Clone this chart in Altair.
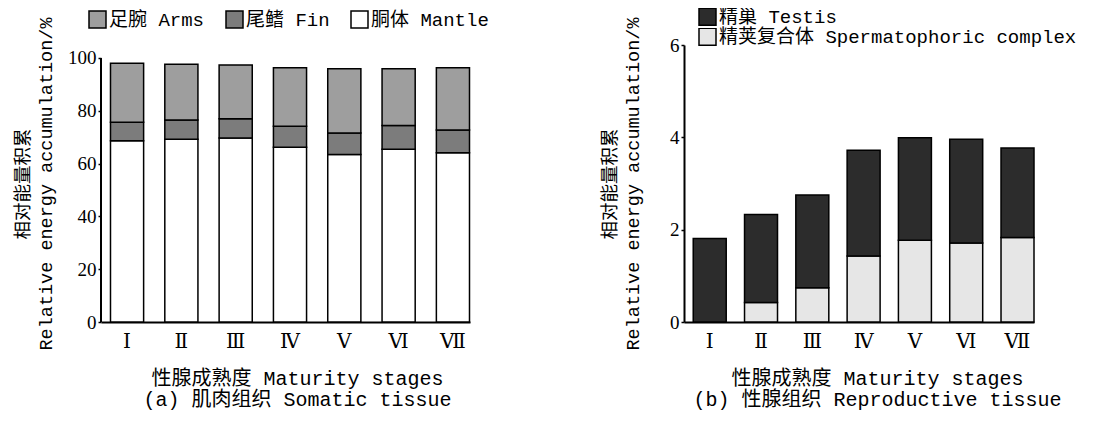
import altair as alt
import pandas as pd

stages = ["Ⅰ", "Ⅱ", "Ⅲ", "Ⅳ", "Ⅴ", "Ⅵ", "Ⅶ"]

# (a) Somatic tissue, relative energy accumulation (%)
mantle = [68.6, 69.2, 69.7, 66.2, 63.4, 65.4, 64.1]
fin = [7.0, 7.3, 7.3, 7.9, 8.2, 9.0, 8.6]
arms = [22.4, 21.1, 20.3, 22.2, 24.3, 21.5, 23.6]
parts_a = ["足腕 Arms", "尾鳍 Fin", "胴体 Mantle"]

# (b) Reproductive tissue
sperm = [0.0, 0.42, 0.74, 1.43, 1.77, 1.71, 1.83]
testis = [1.81, 1.91, 2.01, 2.29, 2.22, 2.25, 1.94]
parts_b = ["精巢 Testis", "精荚复合体 Spermatophoric complex"]

rows_a = []
for i, s in enumerate(stages):
    rows_a.append({"stage": s, "part": parts_a[2], "value": mantle[i], "ord": 0})
    rows_a.append({"stage": s, "part": parts_a[1], "value": fin[i], "ord": 1})
    rows_a.append({"stage": s, "part": parts_a[0], "value": arms[i], "ord": 2})
df_a = pd.DataFrame(rows_a)

rows_b = []
for i, s in enumerate(stages):
    rows_b.append({"stage": s, "part": parts_b[1], "value": sperm[i], "ord": 0})
    rows_b.append({"stage": s, "part": parts_b[0], "value": testis[i], "ord": 1})
df_b = pd.DataFrame(rows_b)

TXT = "Liberation Mono, Noto Sans CJK SC"
NUM = "Liberation Serif, DejaVu Serif"

def xaxis(title, tx):
    return alt.Axis(title=title, labelAngle=0, ticks=False, labelFont=NUM, labelFontSize=20,
                    labelColor="black", labelPadding=9, domainColor="black", domainWidth=2,
                    titleFont=TXT, titleFontSize=20, titleFontWeight="normal", titleColor="black",
                    titleLineHeight=21.5, titlePadding=17, titleX=tx)

def yaxis(vals, domain=True, tpad=12):
    return alt.Axis(title=["相对能量积累", "Relative energy accumulation/%"], values=vals,
                    grid=False, domain=domain, domainColor="black", domainWidth=2,
                    tickColor="black", tickSize=3, tickWidth=1.5, labelFont=NUM, labelFontSize=19,
                    labelColor="black", labelPadding=2, titleFont=TXT, titleFontSize=18.5,
                    titleFontWeight="normal", titleColor="black", titleLineHeight=23,
                    titlePadding=tpad)

W_A, W_B, H = 369, 350, 277

bars_a = alt.Chart(df_a).mark_bar(stroke="black", strokeWidth=1.5).encode(
    x=alt.X("stage:N", sort=stages,
            scale=alt.Scale(paddingInner=0.39, paddingOuter=0.092, align=0.95),
            axis=xaxis(["性腺成熟度 Maturity stages", "(a) 肌肉组织 Somatic tissue"], 196)),
    y=alt.Y("value:Q", stack="zero", scale=alt.Scale(domain=[0, 104.9], nice=False),
            axis=yaxis([0, 20, 40, 60, 80, 100], domain=False)),
    color=alt.Color("part:N", scale=alt.Scale(domain=parts_a, range=["#9e9e9e", "#7c7c7c", "#ffffff"]),
                    legend=alt.Legend(title=None, orient="none", legendX=-13, legendY=-35,
                                      direction="horizontal", columns=3, symbolType="square",
                                      symbolSize=289, symbolStrokeColor="black", symbolStrokeWidth=1.5,
                                      labelFont=TXT, labelFontSize=19, labelColor="black",
                                      labelOffset=2, columnPadding=18, padding=0, labelLimit=400)),
    order=alt.Order("ord:Q"),
)
axis_line_a = alt.Chart(pd.DataFrame({"a": [0]})).mark_rule(color="black", strokeWidth=2).encode(
    x=alt.value(0), y=alt.datum(0), y2=alt.datum(100))
chart_a = alt.layer(bars_a, axis_line_a).properties(width=W_A, height=H)

bars_b = alt.Chart(df_b).mark_bar(stroke="black", strokeWidth=1.5).encode(
    x=alt.X("stage:N", sort=stages,
            scale=alt.Scale(paddingInner=0.357, paddingOuter=0.09, align=1.0),
            axis=xaxis(["性腺成熟度 Maturity stages", "(b) 性腺组织 Reproductive tissue"], 193)),
    y=alt.Y("value:Q", stack="zero", scale=alt.Scale(domain=[0, 6], nice=False),
            axis=yaxis([0, 2, 4, 6], tpad=27)),
    color=alt.Color("part:N", scale=alt.Scale(domain=parts_b, range=["#2c2c2c", "#e6e6e6"]),
                    legend=alt.Legend(title=None, orient="none", legendX=14, legendY=-37,
                                      direction="vertical", symbolType="square",
                                      symbolSize=289, symbolStrokeColor="black", symbolStrokeWidth=1.5,
                                      labelFont=TXT, labelFontSize=19, labelColor="black",
                                      labelOffset=2, rowPadding=0, clipHeight=17.5, padding=0,
                                      labelLimit=500)),
    order=alt.Order("ord:Q"),
).properties(width=W_B, height=H)

chart = alt.hconcat(chart_a, bars_b, spacing=111).resolve_scale(color="independent").properties(
    padding={"left": 5, "top": 0, "right": 0, "bottom": 0}, background="white"
).configure_view(strokeWidth=0, stroke="transparent")

chart.save("out.html", embed_options={"renderer": "svg", "actions": False})
